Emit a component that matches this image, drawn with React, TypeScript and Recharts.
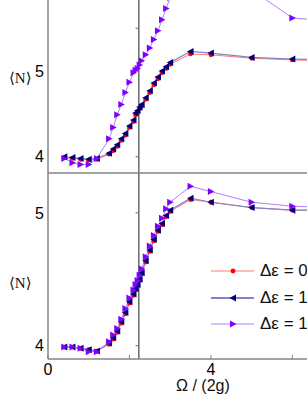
import { LineChart, Line, XAxis, YAxis, ReferenceLine, Legend } from 'recharts';

// Omega / (2g) sample points, shared by every series
const omega = [0.4, 0.6, 0.8, 1.0, 1.2, 1.5, 1.6, 1.7, 1.8, 1.9, 2.0, 2.1, 2.15, 2.2, 2.25, 2.3, 2.4, 2.5, 2.6, 2.7, 2.8, 2.9, 3.0, 3.5, 4.0, 5.0, 6.0, 7.0];

// upper panel <N>
const topDe0 = [3.99, 3.98, 3.97, 3.96, 3.97, 4.03, 4.07, 4.12, 4.19, 4.25, 4.34, 4.41, 4.49, 4.52, 4.56, 4.59, 4.67, 4.75, 4.84, 4.91, 4.98, 5.03, 5.08, 5.2, 5.19, 5.15, 5.13, 5.12];
const topDe1 = [4.0, 3.99, 3.98, 3.97, 3.98, 4.04, 4.09, 4.14, 4.21, 4.27, 4.36, 4.43, 4.51, 4.54, 4.58, 4.61, 4.69, 4.77, 4.86, 4.93, 5.0, 5.05, 5.1, 5.23, 5.21, 5.16, 5.14, 5.13];
const topDe2 = [3.98, 3.93, 3.91, 3.91, 3.98, 4.21, 4.34, 4.49, 4.61, 4.75, 4.87, 4.98, 5.01, 5.03, 5.07, 5.12, 5.19, 5.27, 5.37, 5.47, 5.6, 5.73, 5.86, 6.3, 6.25, 5.95, 5.62, 5.58];

// lower panel <N>
const botDe0 = [3.99, 3.99, 3.98, 3.97, 3.96, 4.01, 4.05, 4.1, 4.17, 4.24, 4.32, 4.38, 4.42, 4.45, 4.49, 4.54, 4.63, 4.71, 4.79, 4.86, 4.91, 4.97, 5.01, 5.1, 5.08, 5.04, 5.02, 5.02];
const botDe1 = [3.99, 3.99, 3.98, 3.97, 3.96, 4.02, 4.06, 4.11, 4.18, 4.25, 4.33, 4.39, 4.43, 4.46, 4.5, 4.55, 4.64, 4.72, 4.8, 4.87, 4.92, 4.98, 5.02, 5.11, 5.08, 5.04, 5.02, 5.02];
const botDe2 = [3.99, 3.99, 3.98, 3.955, 3.955, 4.03, 4.08, 4.13, 4.2, 4.28, 4.36, 4.42, 4.46, 4.49, 4.53, 4.58, 4.67, 4.75, 4.83, 4.9, 4.96, 5.03, 5.08, 5.2, 5.16, 5.08, 5.05, 5.04];

const seriesNames = ['Δε = 0', 'Δε = 1', 'Δε = 1.5'];
const yTicks = [4, 5];
const markerX = 2.23;

const topData = omega.map((x, i) => ({ x, a: topDe0[i], b: topDe1[i], c: topDe2[i] }));
const botData = omega.map((x, i) => ({ x, a: botDe0[i], b: botDe1[i], c: botDe2[i] }));

const X_DOMAIN: [number, number] = [0, 6.36];
const AXIS = '#858585';
const FONT = '"Liberation Sans", Arial, sans-serif';

const RED = '#ff0000';
const RED_LINE = '#ff7b7b';
const NAVY = '#00007a';
const NAVY_LINE = '#8484c4';
const VIOLET = '#7f00ff';
const VIOLET_LINE = '#b27dff';

function RedDot(p: any) {
  if (p.cx == null || p.cy == null) return <g key={p.index} />;
  return <circle key={p.index} cx={p.cx} cy={p.cy} r={2.4} fill={RED} />;
}

function LeftTri(p: any) {
  if (p.cx == null || p.cy == null) return <g key={p.index} />;
  const { cx, cy } = p;
  return <polygon key={p.index} points={`${cx - 3.5},${cy} ${cx + 3},${cy - 3.5} ${cx + 3},${cy + 3.5}`} fill={NAVY} />;
}

function RightTri(p: any) {
  if (p.cx == null || p.cy == null) return <g key={p.index} />;
  const { cx, cy } = p;
  return <polygon key={p.index} points={`${cx + 3.5},${cy} ${cx - 3},${cy - 3.5} ${cx - 3},${cy + 3.5}`} fill={VIOLET} />;
}

function BottomTick(props: any) {
  const { x, y, payload } = props;
  if (payload.value !== 0 && payload.value !== 4) return <g />;
  return (
    <text x={x} y={y} dy={18} textAnchor="middle" fontSize={16} fontFamily={FONT} fill="#000">
      {payload.value}
    </text>
  );
}

function LegendBox() {
  const rows = [
    { color: RED_LINE, mark: <circle cx={22} cy={13} r={2.4} fill={RED} /> },
    { color: NAVY_LINE, mark: <polygon points="18.5,13 25,9.5 25,16.5" fill={NAVY} /> },
    { color: VIOLET_LINE, mark: <polygon points="25.5,13 19,9.5 19,16.5" fill={VIOLET} /> },
  ];
  return (
    <div>
      {rows.map((r, i) => (
        <div key={i} style={{ display: 'flex', alignItems: 'center', height: 26.5, whiteSpace: 'nowrap' }}>
          <svg width={46} height={26} style={{ flex: 'none' }}>
            <line x1={0} y1={13} x2={43} y2={13} stroke={r.color} strokeWidth={i === 1 ? 2 : 1.2} />
            {r.mark}
          </svg>
          <span style={{ marginLeft: 3, fontSize: 17, fontFamily: FONT, color: '#111' }}>{seriesNames[i]}</span>
        </div>
      ))}
    </div>
  );
}

function Series() {
  return [
    <Line key="a" dataKey="a" name={seriesNames[0]} stroke={RED_LINE} strokeWidth={1} dot={RedDot} activeDot={false} isAnimationActive={false} />,
    <Line key="b" dataKey="b" name={seriesNames[1]} stroke={NAVY_LINE} strokeWidth={1.2} dot={LeftTri} activeDot={false} isAnimationActive={false} />,
    <Line key="c" dataKey="c" name={seriesNames[2]} stroke={VIOLET_LINE} strokeWidth={1} dot={RightTri} activeDot={false} isAnimationActive={false} />,
  ];
}

const yTickStyle = { fontSize: 16, fontFamily: FONT, fill: '#000' };
const bracketLabel: React.CSSProperties = {
  position: 'absolute',
  left: 9,
  fontSize: 15,
  fontFamily: '"Liberation Serif", "DejaVu Serif", serif',
  color: '#111',
  lineHeight: '16px',
};

export default function App() {
  return (
    <div style={{ position: 'absolute', left: 0, top: 0, width: 307, height: 398, overflow: 'hidden', background: '#fff' }}>
      <div style={{ position: 'absolute', left: 0, top: 0 }}>
        <LineChart width={307} height={175} data={topData} margin={{ top: 0, right: 0, bottom: 0, left: 0 }}>
          <XAxis dataKey="x" type="number" domain={X_DOMAIN} allowDataOverflow ticks={[2]} tick={false} tickSize={-3} height={2} axisLine={{ stroke: AXIS, strokeWidth: 1.5 }} tickLine={{ stroke: AXIS }} />
          <YAxis type="number" domain={[3.81, 5.83]} allowDataOverflow ticks={yTicks} width={48} tickLine={false} tickSize={2} tickMargin={2} tick={yTickStyle} axisLine={{ stroke: AXIS, strokeWidth: 1.5 }} />
          <ReferenceLine x={markerX} stroke="#6a6a6a" strokeWidth={1.5} />
          {[4, 5, 5.5].map((v) => (
            <ReferenceLine key={v} segment={[{ x: markerX - 0.08, y: v }, { x: markerX, y: v }]} stroke="#6a6a6a" />
          ))}
          {Series()}
        </LineChart>
      </div>
      <div style={{ position: 'absolute', left: 0, top: 173 }}>
        <LineChart width={307} height={225} data={botData} margin={{ top: 0, right: 0, bottom: 0, left: 0 }}>
          <XAxis dataKey="x" type="number" domain={X_DOMAIN} allowDataOverflow ticks={[0, 2, 4, 6]} tick={<BottomTick />} tickSize={-4} height={39} axisLine={{ stroke: AXIS, strokeWidth: 1.5 }} tickLine={{ stroke: AXIS }} />
          <XAxis xAxisId="top" orientation="top" type="number" domain={X_DOMAIN} allowDataOverflow ticks={[4, 6]} tick={false} tickSize={-4} height={0} axisLine={false} tickLine={{ stroke: AXIS }} />
          <YAxis type="number" domain={[3.9, 5.3]} allowDataOverflow ticks={yTicks} width={48} tickLine={false} tickSize={2} tickMargin={2} tick={yTickStyle} axisLine={{ stroke: AXIS, strokeWidth: 1.5 }} />
          <ReferenceLine x={markerX} stroke="#6a6a6a" strokeWidth={1.5} />
          {[4, 5].map((v) => (
            <ReferenceLine key={v} segment={[{ x: markerX - 0.08, y: v }, { x: markerX, y: v }]} stroke="#6a6a6a" />
          ))}
          {Series()}
          <Legend layout="vertical" align="center" verticalAlign="middle" content={<LegendBox />} wrapperStyle={{ left: 211, top: 85, width: 120 }} />
        </LineChart>
      </div>
      <div style={{ ...bracketLabel, top: 70 }}>⟨N⟩</div>
      <div style={{ ...bracketLabel, top: 275 }}>⟨N⟩</div>
      <div style={{ position: 'absolute', left: 176, top: 377, fontSize: 16, lineHeight: '18px', fontFamily: FONT, color: '#111', whiteSpace: 'nowrap' }}>Ω / (2g)</div>
    </div>
  );
}
